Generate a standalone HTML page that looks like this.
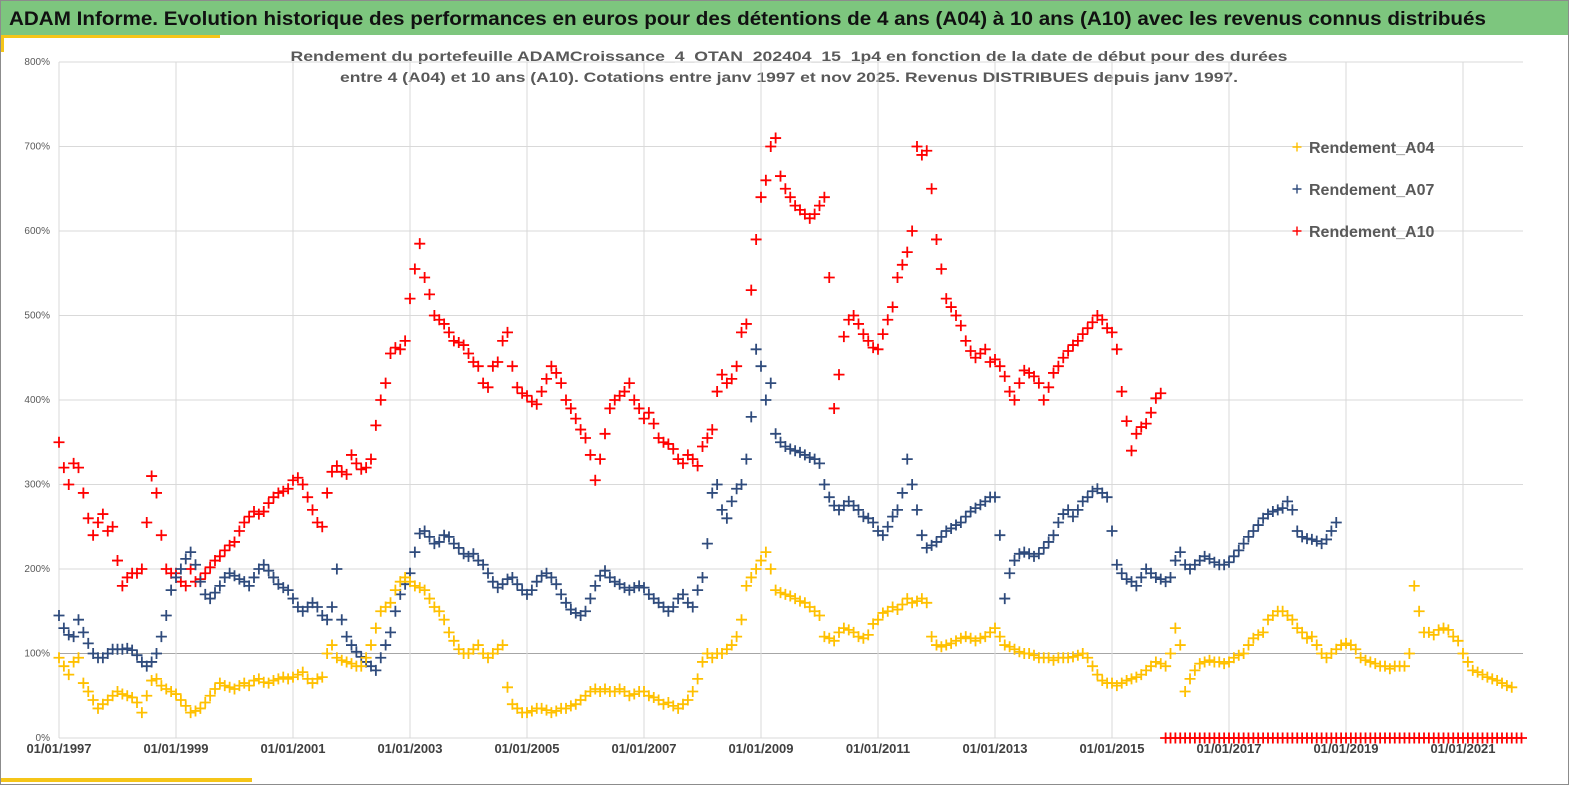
<!DOCTYPE html>
<html><head><meta charset="utf-8"><style>
html,body{margin:0;padding:0;background:#fff;}
svg{display:block;font-family:"Liberation Sans",Arial,sans-serif;}
</style></head><body>
<svg id="chart" width="1569" height="785" viewBox="0 0 1569 785" xmlns="http://www.w3.org/2000/svg">
<rect x="0" y="0" width="1569" height="785" fill="#fff"/>
<rect x="0.5" y="0.5" width="1568" height="784" fill="none" stroke="#8c8c8c"/>
<rect x="1" y="1" width="1567" height="34" fill="#7dc67e"/>
<text x="9" y="25" font-size="19" font-weight="bold" fill="#111" textLength="1477" lengthAdjust="spacingAndGlyphs">ADAM Informe. Evolution historique des performances en euros pour des détentions de 4 ans (A04) à 10 ans (A10) avec les revenus connus distribués</text>
<rect x="1" y="35" width="219" height="3" fill="#f5c518"/>
<rect x="1" y="35" width="3" height="17" fill="#f5c518"/>
<rect x="1" y="778" width="251" height="4" fill="#f5c518"/>
<text x="789" y="61" font-size="14" font-weight="bold" fill="#595959" text-anchor="middle" textLength="997" lengthAdjust="spacingAndGlyphs">Rendement du portefeuille ADAMCroissance_4_OTAN_202404_15_1p4  en fonction de la date de début pour des durées</text>
<text x="789" y="82" font-size="14" font-weight="bold" fill="#595959" text-anchor="middle" textLength="898" lengthAdjust="spacingAndGlyphs">entre 4 (A04) et 10 ans (A10). Cotations entre janv 1997 et nov 2025. Revenus DISTRIBUES depuis janv 1997.</text>
<g id="grid"></g>
<g id="marks"></g>
<g id="legend"></g>
</svg>
<script>
const yTicks = [0,100,200,300,400,500,600,700,800];
const xTickYears = [1997,1999,2001,2003,2005,2007,2009,2011,2013,2015,2017,2019,2021];
const seriesNames = ["Rendement_A04","Rendement_A07","Rendement_A10"];
const startYear = 1997;
const a04 = [
95,85,75,90,95,65,55,45,35,40,45,50,
55,52,50,48,42,30,50,68,70,62,58,55,
52,45,38,30,32,35,42,50,58,65,62,60,
58,62,65,62,68,70,66,65,68,70,72,70,
72,75,78,70,65,70,72,100,110,95,92,90,
88,85,85,95,110,130,150,155,160,175,185,190,
185,180,178,175,165,155,150,140,125,115,105,100,
100,105,110,100,95,100,105,110,60,40,35,30,
30,32,35,35,33,30,32,35,35,38,40,45,
50,55,58,55,58,55,55,58,55,50,52,55,
55,50,48,45,40,42,38,35,40,45,55,70,
90,100,95,100,100,105,110,120,140,180,190,200,
210,220,200,175,172,170,168,165,162,160,155,150,
145,120,118,115,125,130,128,125,120,118,122,135,
140,148,150,155,152,158,165,160,162,165,160,120,
110,108,110,112,115,118,120,118,115,118,120,125,
130,120,110,108,105,102,100,100,98,95,95,95,
92,95,95,95,96,98,100,95,85,75,68,65,
65,62,65,68,70,72,75,80,85,90,88,85,
100,130,110,55,70,80,88,90,92,90,90,88,
90,95,98,100,110,118,122,125,140,145,150,150,
145,140,130,125,118,120,110,100,95,100,105,110,
112,110,105,95,92,90,88,85,85,82,85,85,
85,100,180,150,125,125,122,128,130,128,120,115,
100,90,80,78,75,72,70,68,65,62,60];
const a07 = [
145,130,122,120,140,125,112,100,95,95,100,105,
105,105,106,104,98,90,85,90,100,120,145,175,
190,200,212,220,205,185,170,165,172,180,190,195,
192,188,185,180,190,200,205,198,190,182,178,175,
165,155,150,155,160,155,145,140,155,200,140,120,
110,102,96,90,85,80,95,110,125,150,170,182,
195,220,242,245,238,230,232,240,238,230,225,218,
215,218,210,205,195,185,178,182,188,190,182,175,
170,175,185,192,195,190,182,170,160,152,148,145,
150,165,180,192,198,190,185,182,178,175,178,180,
178,170,165,160,155,150,155,165,170,160,155,175,
190,230,290,300,270,260,280,295,300,330,380,460,
440,400,420,360,350,345,342,340,338,335,332,330,
325,300,285,275,270,275,280,275,270,262,260,255,
245,240,250,262,270,290,330,300,270,240,225,228,
232,238,245,248,252,255,262,268,272,276,280,285,
285,240,165,195,210,218,220,218,215,218,225,232,
240,255,265,270,262,270,280,285,292,295,290,285,
245,205,195,188,185,180,190,200,195,190,188,185,
190,210,220,205,200,205,210,215,212,208,205,205,
208,215,222,230,238,245,252,260,265,268,270,272,
280,270,245,238,236,235,233,230,235,245,255];
const a10 = [
350,320,300,325,320,290,260,240,255,265,245,250,
210,180,190,195,195,200,255,310,290,240,200,195,
195,185,180,200,185,188,195,202,210,215,222,228,
232,245,255,262,268,265,268,278,285,290,292,295,
305,308,300,285,270,255,250,290,315,322,315,312,
335,325,318,320,330,370,400,420,455,462,460,470,
520,555,585,545,525,500,495,490,480,470,468,465,
455,445,440,420,415,440,445,470,480,440,415,408,
405,398,395,410,425,440,432,420,400,390,378,365,
355,335,305,330,360,390,400,405,410,420,400,390,
378,385,372,355,350,348,342,330,325,335,330,322,
345,355,365,410,430,420,425,440,480,490,530,590,
640,660,700,710,665,650,640,630,625,620,615,620,
630,640,545,390,430,475,495,500,490,478,470,462,
460,478,495,510,545,560,575,600,700,690,695,650,
590,555,520,510,500,488,470,458,450,455,460,445,
448,440,428,410,400,420,435,432,428,420,400,415,
432,440,450,458,465,470,478,485,492,500,495,485,
480,460,410,375,340,360,368,372,385,402,408,
0,0,0,0,0,0,0,0,0,0,0,0,0,0,0,0,0,0,0,0,0,0,0,0,
0,0,0,0,0,0,0,0,0,0,0,0,0,0,0,0,0,0,0,0,0,0,0,0,
0,0,0,0,0,0,0,0,0,0,0,0,0,0,0,0,0,0,0,0,0,0,0,0,0,0];
const colors = ["#ffc000","#2f4b7c","#ff0000"];

const NS="http://www.w3.org/2000/svg";
const X0=59, X1=1523, Y0=738, Y1=62;
function xScale(yearFrac){return X0+(yearFrac-startYear)*58.5;}
function yScale(v){return Y0-(v/800)*(Y0-Y1);}
function mk(tag,attrs,parent){const e=document.createElementNS(NS,tag);for(const k in attrs)e.setAttribute(k,attrs[k]);parent.appendChild(e);return e;}
const grid=document.getElementById('grid');
yTicks.forEach(t=>{
  const y=yScale(t);
  const l=mk('line',{x1:X0,x2:X1,y1:y,y2:y,stroke:t===100?'#a6a6a6':'#d9d9d9','stroke-width':1},grid);
  
  
  const tx=mk('text',{x:50,y:y+3,'font-size':10,fill:'#595959','text-anchor':'end'},grid);
  tx.textContent=t+'%';
  
  
});
xTickYears.forEach(yr=>{
  const x=xScale(yr);
  const l=mk('line',{x1:x,x2:x,y1:Y1,y2:Y0,stroke:'#d9d9d9','stroke-width':1},grid);
  
  
  const tx=mk('text',{x:x,y:753,'font-size':13,'font-weight':'bold',fill:'#404040','text-anchor':'middle'},grid);
  tx.textContent='01/01/'+yr;
  
  
});
const marks=document.getElementById('marks');
function plus(cx,cy,col,parent,w,h){
  h=h||5.5;
  const p=mk('path',{d:`M${cx-h},${cy}h${2*h}M${cx},${cy-h}v${2*h}`,stroke:col,'stroke-width':w||1.8,fill:'none'},parent);
  return p;
}
[a10,a07,a04].forEach((arr,ri)=>{
  const si=2-ri;
  const g=mk('g',{},marks);
  
  
  arr.forEach((v,i)=>{
    const p=plus(xScale(startYear+i/12),yScale(v),colors[si],g);
    
    
  });
});
const lg=document.getElementById('legend');
seriesNames.forEach((n,i)=>{
  const y=147+i*42;
  const g=mk('g',{},lg);
  
  
  plus(1297,y,colors[i],g,1.4,4.5);
  const t=mk('text',{x:1309,y:y+6,'font-size':16,'font-weight':'bold',fill:'#595959'},g);
  t.textContent=n;
});
</script>
</body></html>
